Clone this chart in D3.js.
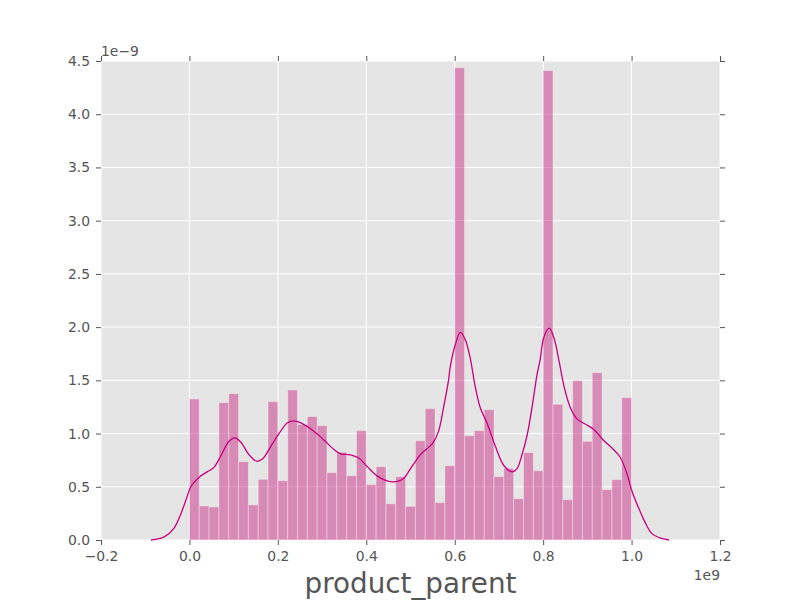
<!DOCTYPE html>
<html lang="en">
<head>
  <meta charset="UTF-8">
  <title>product_parent distribution</title>
  <style>
    body { margin: 0; background: #fff; font-family: "DejaVu Sans", sans-serif; }
    svg { display: block; }
    .tick text { fill: #555; font-size: 13.9px; font-family: "DejaVu Sans", sans-serif; }
    .tick line { stroke: #555; }
    .domain { display: none; }
    .grid line { stroke: #fff; stroke-width: 1; }
  </style>
</head>
<body>
  <svg width="800" height="600"></svg>

  <script src="https://d3js.org/d3.v7.min.js"></script>
  <script>
    // histogram: 45 bins on [0, 1] (x in 1e9, density in 1e-9)
    const binStart = 0, binEnd = 1, binCount = 45;
    const binHeights = [
      1.325, 0.32, 0.31, 1.29, 1.375, 0.736, 0.33, 0.57, 1.30, 0.557,
      1.41, 1.085, 1.16, 1.074, 0.633, 0.824, 0.604, 1.027, 0.52, 0.689,
      0.341, 0.595, 0.316, 0.933, 1.234, 0.351, 0.698, 4.437, 0.98, 1.027,
      1.225, 0.595, 0.673, 0.388, 0.821, 0.651, 4.41, 1.275, 0.379, 1.497,
      0.927, 1.572, 0.473, 0.567, 1.337
    ];

    // kde curve
    const kdeX = [-0.087, -0.057, -0.035, -0.019, -0.005, 0.003, 0.022, 0.04, 0.055, 0.071,
      0.09, 0.103, 0.116, 0.135, 0.152, 0.165, 0.184, 0.206, 0.221, 0.236,
      0.252, 0.282, 0.304, 0.327, 0.342, 0.364, 0.383, 0.402, 0.425, 0.447,
      0.47, 0.485, 0.50, 0.522, 0.538, 0.552, 0.564, 0.575, 0.586, 0.59,
      0.601, 0.613, 0.624, 0.635, 0.646, 0.658, 0.673, 0.692, 0.711, 0.73,
      0.741, 0.752, 0.763, 0.775, 0.786, 0.793, 0.802, 0.814, 0.825, 0.836,
      0.848, 0.861, 0.876, 0.899, 0.914, 0.936, 0.959, 0.974, 0.989, 1.0,
      1.015, 1.03, 1.046, 1.064, 1.085];
    const kdeY = [0, 0.03, 0.11, 0.25, 0.41, 0.50, 0.59, 0.64, 0.68, 0.79,
      0.93, 0.96, 0.92, 0.80, 0.74, 0.76, 0.88, 1.02, 1.10, 1.12,
      1.10, 1.02, 0.94, 0.85, 0.81, 0.80, 0.77, 0.69, 0.60, 0.555,
      0.55, 0.58, 0.67, 0.80, 0.86, 0.92, 1.03, 1.25, 1.50, 1.63,
      1.83, 1.95, 1.88, 1.71, 1.45, 1.24, 1.10, 0.88, 0.70, 0.64,
      0.67, 0.80, 0.97, 1.25, 1.55, 1.69, 1.91, 1.99, 1.89, 1.68,
      1.43, 1.25, 1.14, 1.08, 1.04, 0.94, 0.85, 0.78, 0.63, 0.47,
      0.31, 0.17, 0.06, 0.02, 0.0];

    const xTicks = [-0.2, 0, 0.2, 0.4, 0.6, 0.8, 1.0, 1.2];
    const yTicks = [0, 0.5, 1.0, 1.5, 2.0, 2.5, 3.0, 3.5, 4.0, 4.5];

    const plotLeft = 101, plotRight = 720, plotTop = 61, plotBottom = 540;
    const barColor = "#c51b7d";
    const lineColor = "#c8007c";

    const svg = d3.select("svg");
    const x = d3.scaleLinear().domain([-0.2, 1.2]).range([plotLeft, plotRight]);
    const y = d3.scaleLinear().domain([0, 4.5]).range([plotBottom, plotTop]);

    svg.append("rect")
      .attr("x", plotLeft).attr("y", plotTop)
      .attr("width", plotRight - plotLeft).attr("height", plotBottom - plotTop)
      .attr("fill", "#e5e5e5");

    // grid
    const grid = svg.append("g").attr("class", "grid");
    grid.selectAll(".gx").data(xTicks).join("line")
      .attr("x1", d => x(d)).attr("x2", d => x(d))
      .attr("y1", plotTop).attr("y2", plotBottom);
    grid.selectAll(".gy").data(yTicks).join("line")
      .attr("y1", d => y(d)).attr("y2", d => y(d))
      .attr("x1", plotLeft).attr("x2", plotRight);

    // bars
    const bw = (binEnd - binStart) / binCount;
    svg.append("g").selectAll("rect")
      .data(binHeights)
      .join("rect")
      .attr("x", (d, i) => x(binStart + i * bw))
      .attr("width", (d, i) => x(binStart + (i + 1) * bw) - x(binStart + i * bw))
      .attr("y", d => y(d))
      .attr("height", d => y(0) - y(d))
      .attr("fill", barColor)
      .attr("fill-opacity", 0.45)
      .attr("stroke", "#fff")
      .attr("stroke-opacity", 0.35)
      .attr("stroke-width", 1);

    // kde
    const line = d3.line().curve(d3.curveCatmullRom).x(d => x(d[0])).y(d => y(d[1]));
    svg.append("path")
      .datum(d3.zip(kdeX, kdeY))
      .attr("d", line)
      .attr("fill", "none")
      .attr("stroke", lineColor)
      .attr("stroke-width", 1.3);

    // axes
    const fmt = d3.format(".1f");
    svg.append("g").attr("transform", `translate(0,${plotBottom})`)
      .call(d3.axisBottom(x).tickValues(xTicks).tickFormat(fmt).tickSize(5).tickPadding(6));
    svg.append("g").attr("transform", `translate(0,${plotTop})`)
      .call(d3.axisTop(x).tickValues(xTicks).tickFormat("").tickSize(5));
    svg.append("g").attr("transform", `translate(${plotLeft},0)`)
      .call(d3.axisLeft(y).tickValues(yTicks).tickFormat(fmt).tickSize(5).tickPadding(6));
    svg.append("g").attr("transform", `translate(${plotRight},0)`)
      .call(d3.axisRight(y).tickValues(yTicks).tickFormat("").tickSize(5));

    // offset texts and label
    svg.append("text")
      .attr("x", plotLeft).attr("y", 56)
      .attr("fill", "#555").attr("font-size", "13.9px")
      .text("1e\u22129");
    svg.append("text")
      .attr("x", plotRight).attr("y", 580)
      .attr("text-anchor", "end")
      .attr("fill", "#555").attr("font-size", "13.9px")
      .text("1e9");
    svg.append("text")
      .attr("x", (plotLeft + plotRight) / 2).attr("y", 593)
      .attr("text-anchor", "middle")
      .attr("fill", "#555").attr("font-size", "27.8px")
      .text("product_parent");
  </script>
</body>
</html>
